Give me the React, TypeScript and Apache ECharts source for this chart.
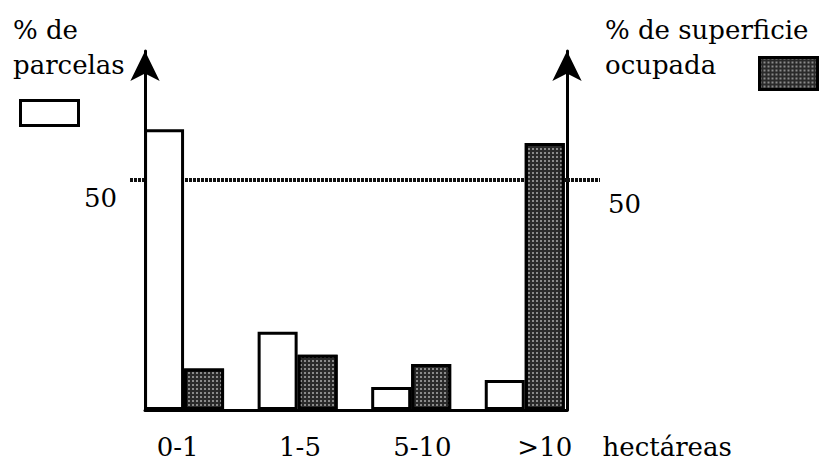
import React, { useEffect, useRef } from 'react';
import * as echarts from 'echarts';

// Data
const categories = ['0-1', '1-5', '5-10', '>10'];
const axisLabels = ['0-1', '1-5', '5-10', '>10', 'hectáreas'];
const parcelas = [61, 17, 5, 6.5]; // % de parcelas (white bars)
const superficie = [9, 12, 10, 58]; // % de superficie ocupada (dark bars)
const referenceTicks = [50];
const yMax = 78;

const FONT = 'DejaVu Serif';
const LINE_COLOR = '#111';

export default function App() {
  const ref = useRef<HTMLDivElement>(null);
  useEffect(() => {
    if (!ref.current) return;
    const chart = echarts.init(ref.current, null, { renderer: 'svg' });
    const textStyle = { fontFamily: FONT, fontSize: 26, fontWeight: 'normal' as const, color: '#000', lineHeight: 35 };
    const darkDecal = {
      symbol: 'rect',
      symbolSize: 1,
      color: 'rgba(255,255,255,0.45)',
      dashArrayX: [1.5, 1.5],
      dashArrayY: [1.5, 1.5],
    };
    const refLine = { color: LINE_COLOR, width: 4, type: [3, 1] };
    chart.setOption({
      animation: false,
      textStyle: { fontFamily: FONT, color: '#000' },
      title: [
        { text: '% de\nparcelas', left: 13, top: 12, padding: 0, textStyle },
        { text: '% de superficie\nocupada', left: 605, top: 12, padding: 0, textStyle },
      ],
      legend: [
        {
          data: ['% de parcelas'], left: 19, top: 99, itemWidth: 58, itemHeight: 25, padding: 0,
          icon: 'rect', selectedMode: false, formatter: () => '',
          itemStyle: { color: '#ffffff', borderColor: '#000', borderWidth: 3 },
        },
        {
          data: ['% de superficie ocupada'], left: 758, top: 56, itemWidth: 58, itemHeight: 32, padding: 0,
          icon: 'rect', selectedMode: false, formatter: () => '',
          itemStyle: { color: '#2a2a2a', borderColor: '#000', borderWidth: 3, decal: darkDecal },
        },
      ],
      grid: [
        { left: 145, top: 51, width: 422, height: 359 },
        { left: 116.4, top: 51, width: 612, height: 359 },
      ],
      xAxis: [
        {
          type: 'value', gridIndex: 0, min: -0.344, max: 3.372, zlevel: 1, z: 20,
          axisLine: { show: true, onZero: false, lineStyle: { color: '#000', width: 3 } },
          axisTick: { show: false }, axisLabel: { show: false }, splitLine: { show: false },
        },
        {
          type: 'category', gridIndex: 1, data: axisLabels, boundaryGap: true,
          axisLine: { show: false }, axisTick: { show: false }, splitLine: { show: false },
          axisLabel: { fontFamily: FONT, fontSize: 26, color: '#000', margin: 24, interval: 0 },
        },
      ],
      yAxis: [
        {
          type: 'value', gridIndex: 0, position: 'left', min: 0, max: yMax, interval: 50,
          axisLine: { show: true, onZero: false, symbol: ['none', 'arrow'], symbolSize: [22, 30], lineStyle: { color: '#000', width: 3 } },
          axisTick: { show: true, customValues: referenceTicks, length: 15, lineStyle: refLine },
          axisLabel: {
            customValues: referenceTicks, margin: 28, verticalAlign: 'middle',
            formatter: (v: number) => `{a|${v}}`,
            rich: { a: { fontFamily: FONT, fontSize: 26, color: '#000', padding: [36, 0, 0, 0] } },
          },
          splitLine: { show: false },
        },
        {
          type: 'value', gridIndex: 0, position: 'right', min: 0, max: yMax, interval: 50,
          axisLine: { show: true, onZero: false, symbol: ['none', 'arrow'], symbolSize: [22, 30], lineStyle: { color: '#000', width: 3 } },
          axisTick: { show: true, customValues: referenceTicks, length: 33, lineStyle: refLine },
          axisLabel: {
            customValues: referenceTicks, margin: 41, verticalAlign: 'middle',
            formatter: (v: number) => `{a|${v}}`,
            rich: { a: { fontFamily: FONT, fontSize: 26, color: '#000', padding: [48, 0, 0, 0] } },
          },
          splitLine: { show: false },
        },
        {
          type: 'value', gridIndex: 1, show: false, min: 0, max: yMax,
        },
      ],
      series: [
        {
          name: 'ref50', type: 'line', xAxisIndex: 0, yAxisIndex: 0, zlevel: 0, z: 1,
          data: [], silent: true, showSymbol: false,
          markLine: {
            silent: true, symbol: ['none', 'none'], zlevel: 0, z: 1,
            label: { show: false },
            lineStyle: refLine,
            emphasis: { disabled: true },
            data: referenceTicks.map((v) => ({ yAxis: v })),
          },
        },
        {
          name: '% de parcelas', type: 'bar', xAxisIndex: 0, yAxisIndex: 0, zlevel: 1, z: 10,
          data: parcelas.map((v, i) => [i, v]),
          barWidth: 40, barGap: '0%', silent: true,
          itemStyle: { color: '#ffffff', opacity: 1, borderColor: '#000', borderWidth: 3 },
        },
        {
          name: '% de superficie ocupada', type: 'bar', xAxisIndex: 0, yAxisIndex: 0, zlevel: 1, z: 10,
          data: superficie.map((v, i) => [i, v]),
          barWidth: 40, barGap: '0%', silent: true,
          itemStyle: { color: '#2a2a2a', borderColor: '#000', borderWidth: 3, decal: darkDecal },
        },
      ],
    });
    return () => chart.dispose();
  }, []);
  return <div ref={ref} style={{ width: 822, height: 462, position: 'absolute', left: 0, top: 0, background: '#fff' }} data-categories={categories.join(',')} />;
}
